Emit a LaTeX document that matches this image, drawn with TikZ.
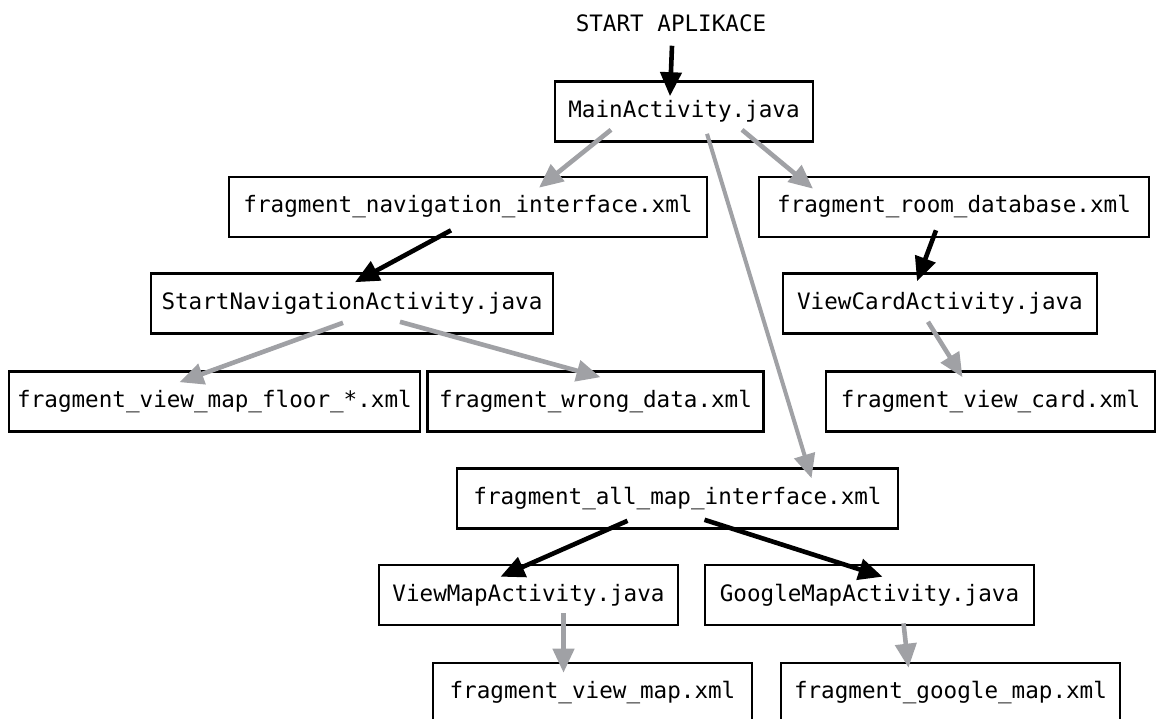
\documentclass[tikz,border=0pt]{standalone}
\usepackage{fontspec}
\setmonofont{DejaVu Sans Mono}
\usepackage{xcolor}
\usetikzlibrary{arrows.meta}
\definecolor{edgegray}{RGB}{160,161,165}

\begin{document}
\begin{tikzpicture}[x=1pt, y=-1pt,
    box/.style={draw=black, line width=2.6pt, fill=white, minimum height=60pt, inner sep=0pt, font=\ttfamily\fontsize{22.6}{27}\selectfont},
    blackarr/.style={-{Triangle[length=24pt,width=21pt]}, line width=4.6pt, draw=black},
    grayarr/.style={-{Triangle[length=24pt,width=21pt]}, line width=4.6pt, draw=edgegray}]
    \useasboundingbox (0,0) rectangle (1156,718);

    \node[inner sep=0pt, font=\ttfamily\fontsize{22.6}{27}\selectfont] (start) at (671,23) {START APLIKACE};

    \node[box, minimum width=258] (main) at (684,111.5) {MainActivity.java};

    \node[box, minimum width=478] (nav) at (468,207) {fragment\_navigation\_interface.xml};
    \node[box, minimum width=390] (room) at (954,207) {fragment\_room\_database.xml};

    \node[box, minimum width=402] (startnav) at (352,303.5) {StartNavigationActivity.java};
    \node[box, minimum width=314] (viewcard) at (940,303.5) {ViewCardActivity.java};

    \node[box, minimum width=411] (floor) at (214.5,401.5) {fragment\_view\_map\_floor\_*.xml};
    \node[box, minimum width=336] (wrong) at (595.5,401.5) {fragment\_wrong\_data.xml};
    \node[box, minimum width=329] (cardxml) at (990.5,401.5) {fragment\_view\_card.xml};

    \node[box, minimum width=441] (allmap) at (677.5,498.5) {fragment\_all\_map\_interface.xml};

    \node[box, minimum width=299] (viewmap) at (528.5,595) {ViewMapActivity.java};
    \node[box, minimum width=329] (google) at (869.5,595) {GoogleMapActivity.java};

    \node[box, minimum width=319] (mapxml) at (592.5,693) {fragment\_view\_map.xml};
    \node[box, minimum width=339] (googlexml) at (950.5,693) {fragment\_google\_map.xml};

    \draw[blackarr] ([xshift=1pt,yshift=-14pt]start.south) -- ([xshift=-14pt,yshift=-16pt]main.north);

    \draw[grayarr] ([xshift=-73pt,yshift=13pt]main.south) -- ([xshift=71pt,yshift=-12pt]nav.north);
    \draw[grayarr] ([xshift=58pt,yshift=13pt]main.south) -- ([xshift=-141pt,yshift=-13pt]room.north);
    \draw[grayarr, line width=4pt] ([xshift=23pt,yshift=9pt]main.south) -- ([xshift=134pt,yshift=-11pt]allmap.north);

    \draw[blackarr] ([xshift=-17pt,yshift=8pt]nav.south) -- ([xshift=3pt,yshift=-10pt]startnav.north);
    \draw[blackarr] ([xshift=-18pt,yshift=8pt]room.south) -- ([xshift=-23pt,yshift=-9pt]viewcard.north);

    \draw[grayarr] ([xshift=-9pt,yshift=12pt]startnav.south) -- ([xshift=-35pt,yshift=-12pt]floor.north);
    \draw[grayarr] ([xshift=48pt,yshift=13pt]startnav.south) -- ([xshift=5pt,yshift=-7pt]wrong.north);
    \draw[grayarr] ([xshift=-12pt,yshift=13pt]viewcard.south) -- ([xshift=-28pt,yshift=-7pt]cardxml.north);

    \draw[blackarr] ([xshift=-50pt,yshift=9pt]allmap.south) -- ([xshift=-28pt,yshift=-13pt]viewmap.north);
    \draw[blackarr] ([xshift=27pt,yshift=10pt]allmap.south) -- ([xshift=13pt,yshift=-13pt]google.north);

    \draw[grayarr] ([xshift=35pt,yshift=13pt]viewmap.south) -- ([xshift=-29pt,yshift=-11pt]mapxml.north);
    \draw[grayarr] ([xshift=34pt,yshift=3pt]google.south) -- ([xshift=-42pt,yshift=-6pt]googlexml.north);
\end{tikzpicture}
\end{document}
